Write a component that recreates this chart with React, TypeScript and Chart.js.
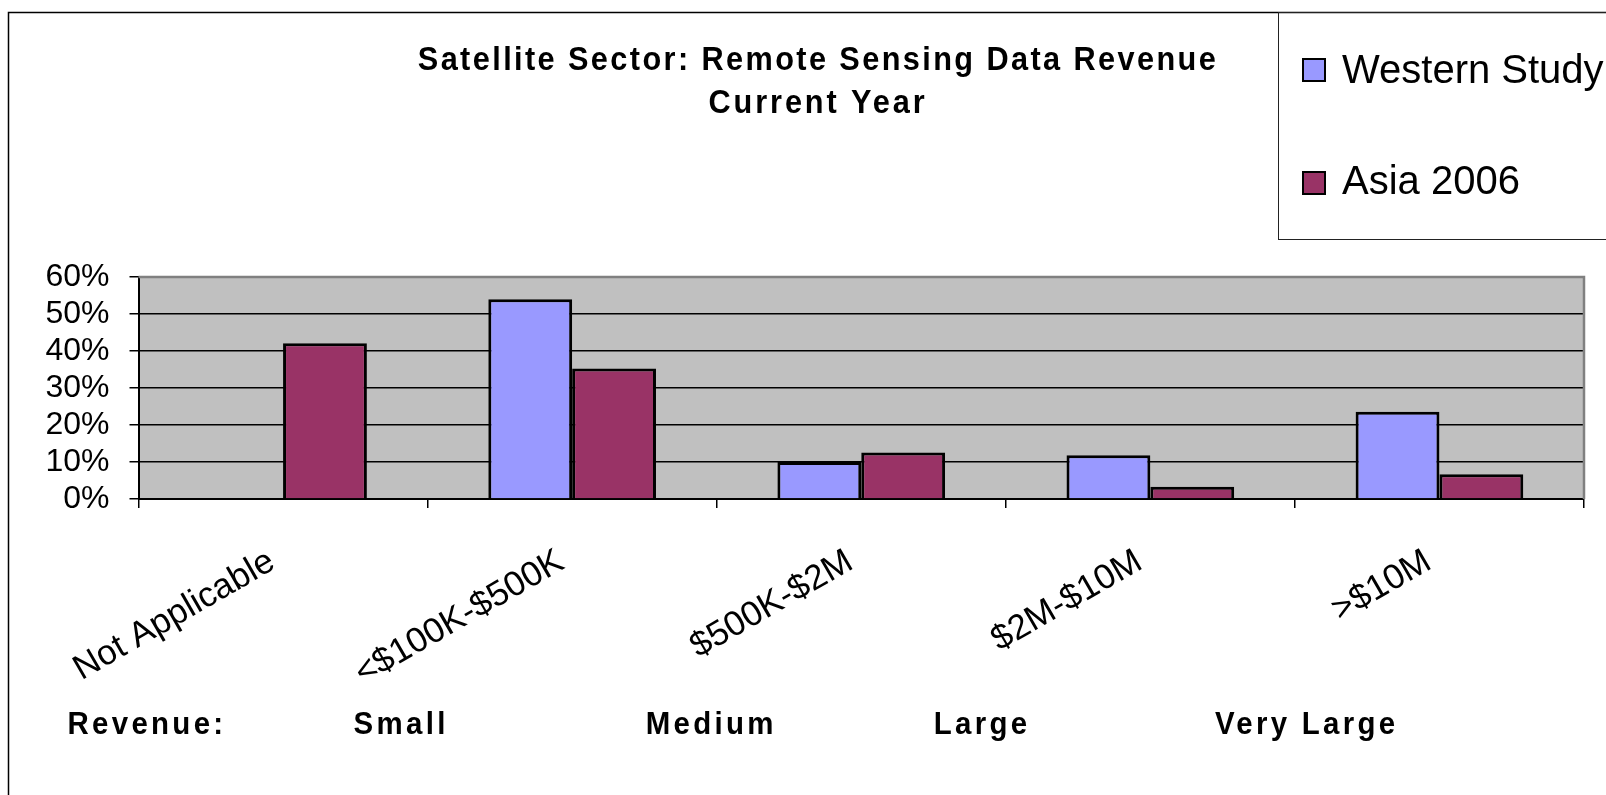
import React, { useEffect, useRef } from "react";
import { Chart, registerables } from "chart.js";

Chart.register(...registerables);

const categories = ["Not Applicable", "<$100K-$500K", "$500K-$2M", "$2M-$10M", ">$10M"];
const westernStudy: (number | null)[] = [null, 54, 10, 11.8, 23.6];
const asia2006: (number | null)[] = [42.1, 35.3, 12.6, 3.3, 6.7];
const seriesNames = ["Western Study", "Asia 2006"];
const seriesColors = ["#9999FF", "#993366"];
const titleLines = ["Satellite Sector: Remote Sensing Data Revenue", "Current Year"];
const revenueLabels = ["Revenue:", "Small", "Medium", "Large", "Very Large"];
const yMax = 60;
const yStep = 10;

const FONT = '"Liberation Sans", Arial, sans-serif';

function condensedText(
  ctx: CanvasRenderingContext2D,
  text: string,
  x: number,
  y: number,
  align: CanvasTextAlign,
  sx: number,
  spacing: number
) {
  ctx.save();
  ctx.translate(x, y);
  ctx.scale(sx, 1);
  ctx.textAlign = align;
  ctx.textBaseline = "alphabetic";
  (ctx as any).letterSpacing = `${spacing / sx}px`;
  ctx.fillText(text, 0, 0);
  ctx.restore();
}

const revenueShift = [71, 74, 71, 72, 80];

const decor = {
  id: "decor",
  beforeDraw(chart: any) {
    const { ctx, chartArea: a } = chart;
    ctx.save();
    ctx.fillStyle = "#ffffff";
    ctx.fillRect(0, 0, chart.width, chart.height);
    ctx.fillStyle = "#C0C0C0";
    ctx.fillRect(a.left, a.top, a.right - a.left, a.bottom - a.top);
    ctx.restore();
  },
  afterDraw(chart: any) {
    const { ctx, chartArea: a } = chart;
    const xs = chart.scales.x;
    ctx.save();
    // plot area border (top/right)
    ctx.strokeStyle = "#808080";
    ctx.lineWidth = 2.5;
    ctx.beginPath();
    ctx.moveTo(a.left, a.top);
    ctx.lineTo(a.right, a.top);
    ctx.lineTo(a.right, a.bottom);
    ctx.stroke();

    // outer frame
    ctx.strokeStyle = "#000";
    ctx.lineWidth = 1.5;
    ctx.beginPath();
    ctx.moveTo(8.5, 820);
    ctx.lineTo(8.5, 12.5);
    ctx.lineTo(1620, 12.5);
    ctx.stroke();

    // legend box
    ctx.lineWidth = 1;
    ctx.strokeStyle = "#222";
    ctx.strokeRect(1278.5, 12.5, 400, 227);

    // title
    ctx.fillStyle = "#000";
    ctx.font = `bold 33px ${FONT}`;
    condensedText(ctx, titleLines[0], 818, 70, "center", 0.93, 2.4);
    condensedText(ctx, titleLines[1], 818, 113, "center", 0.93, 2.9);

    // revenue size labels
    ctx.font = `bold 32px ${FONT}`;
    const half = (xs.getPixelForValue(1) - xs.getPixelForValue(0)) / 2;
    revenueLabels.forEach((t, i) => {
      const boundary = xs.getPixelForValue(i) - half;
      condensedText(ctx, t, boundary - revenueShift[i], 734, "left", 0.92, 3.3);
    });

    // legend
    ctx.font = `40px ${FONT}`;
    ctx.textAlign = "left";
    ctx.textBaseline = "alphabetic";
    const rows = [
      { sq: 59, base: 83 },
      { sq: 172, base: 194 },
    ];
    seriesNames.forEach((name, i) => {
      ctx.fillStyle = seriesColors[i];
      ctx.fillRect(1303, rows[i].sq, 22, 22);
      ctx.strokeStyle = "#000";
      ctx.lineWidth = 2;
      ctx.strokeRect(1303, rows[i].sq, 22, 22);
      ctx.fillStyle = "#000";
      ctx.fillText(name, 1342, rows[i].base);
    });
    ctx.restore();
  },
};

export default function App() {
  const ref = useRef<HTMLCanvasElement | null>(null);
  useEffect(() => {
    document.body.style.margin = "0";
    document.body.style.overflow = "hidden";
    const canvas = ref.current!;
    const chart = new Chart(canvas, {
      type: "bar",
      data: {
        labels: categories,
        datasets: [
          {
            label: seriesNames[0],
            data: westernStudy,
            backgroundColor: seriesColors[0],
            borderColor: "#000",
            borderWidth: 3,
            categoryPercentage: 0.58,
            barPercentage: 1,
          },
          {
            label: seriesNames[1],
            data: asia2006,
            backgroundColor: seriesColors[1],
            borderColor: "#000",
            borderWidth: 3,
            categoryPercentage: 0.58,
            barPercentage: 1,
          },
        ],
      },
      options: {
        animation: false,
        responsive: false,
        devicePixelRatio: 1,
        layout: { padding: { top: 277, right: 22, left: 0, bottom: 0 } },
        plugins: {
          legend: { display: false },
          title: { display: false },
          tooltip: { enabled: false },
        },
        scales: {
          x: {
            offset: true,
            grid: {
              offset: true,
              drawOnChartArea: false,
              drawTicks: true,
              tickLength: 9,
              color: "#000",
              lineWidth: 1.5,
            },
            border: { display: true, color: "#000", width: 2 },
            ticks: {
              autoSkip: false,
              maxRotation: 30,
              minRotation: 30,
              padding: 33,
              labelOffset: -11,
              color: "#000",
              font: { family: FONT, size: 35 },
            },
            afterFit: (s: any) => {
              s.height = 296;
            },
          },
          y: {
            min: 0,
            max: yMax,
            grid: {
              color: "#000",
              lineWidth: 1.5,
              tickLength: 9,
            },
            border: { display: true, color: "#000", width: 2 },
            ticks: {
              stepSize: yStep,
              autoSkip: false,
              padding: 20,
              color: "#000",
              font: { family: FONT, size: 32 },
              callback: (v: any) => `${v}%`,
            },
            afterFit: (s: any) => {
              s.width = 138.5;
            },
          },
        },
      },
      plugins: [decor],
    });
    return () => chart.destroy();
  }, []);
  return <canvas ref={ref} width={1606} height={795} style={{ display: "block", width: 1606, height: 795 }} />;
}
